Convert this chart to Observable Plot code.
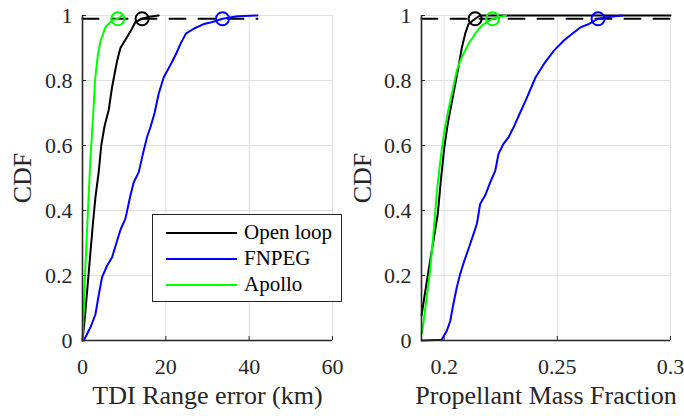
<!DOCTYPE html>
<html>
<head>
<meta charset="utf-8">
<script src="https://cdn.jsdelivr.net/npm/d3@7"></script>
<script src="https://cdn.jsdelivr.net/npm/@observablehq/plot@0.6"></script>
<style>
  body { margin: 0; background: #fff; }
  #fig { position: relative; width: 684px; height: 416px; overflow: hidden;
         font-family: "Liberation Serif", "Times New Roman", serif; color: #262626; }
  #fig > svg { position: absolute; top: 0; }
  #legend { position: absolute; left: 152px; top: 214px; width: 188px; height: 86px;
            border: 1px solid #262626; background: #fff; box-sizing: content-box;
            padding: 0; font-size: 21px; color: #000; }
  #legend .row { position: absolute; left: 0; height: 26px; display: flex; align-items: center; }
  #legend .row svg { margin-left: 13px; margin-right: 7px; }
</style>
</head>
<body>
<div id="fig"></div>
<script>
// Series names and colours, in drawing order
const seriesNames = ["Open loop", "FNPEG", "Apollo"];
const seriesColors = ["#000000", "#0000ff", "#00ff00"];

const yTicks = [0, 0.2, 0.4, 0.6, 0.8, 1];

// TDI range error (km) empirical CDFs
const rangeOpenX = [0, 0.5, 1.5, 2.5, 3.1, 3.9, 4.5, 5.3, 6.3, 7.1, 8.3, 9.1, 10.7, 11.9, 12.7, 14.3, 16, 18.3];
const rangeOpenY = [0, 0.06, 0.21, 0.36, 0.44, 0.52, 0.6, 0.66, 0.71, 0.78, 0.86, 0.9, 0.934, 0.96, 0.98, 0.99, 0.996, 1];
const rangeFnpegX = [0, 0.3, 1.9, 3.1, 3.9, 4.7, 5.9, 7.1, 7.9, 9.1, 10.3, 11.5, 12.3, 13.5, 14.7, 15.5, 16.3, 17.3, 18.3, 19.5, 21.2, 22.4, 23.6, 24.8, 26.8, 29.2, 31.2, 33.6, 37.2, 42];
const rangeFnpegY = [0, 0, 0.04, 0.08, 0.14, 0.195, 0.23, 0.256, 0.29, 0.34, 0.375, 0.446, 0.487, 0.518, 0.585, 0.626, 0.656, 0.7, 0.76, 0.81, 0.85, 0.88, 0.915, 0.944, 0.96, 0.974, 0.98, 0.99, 0.998, 1];
const rangeApolloX = [0, 0.2, 0.6, 1.2, 1.9, 2.6, 3.0, 3.7, 4.3, 5.5, 7.1, 8.5, 9.5];
const rangeApolloY = [0, 0.06, 0.2, 0.37, 0.56, 0.7, 0.8, 0.88, 0.92, 0.964, 0.985, 0.99, 1];
// 99th percentile markers
const rangeP99X = [14.3, 33.6, 8.5];
const rangeDashX = [0, 42];
const rangeXTicks = [0, 20, 40, 60];

// Propellant mass fraction empirical CDFs
const pmfOpenX = [0.19, 0.1931, 0.1953, 0.1972, 0.1987, 0.2001, 0.2016, 0.2027, 0.2041, 0.2063, 0.2078, 0.2093, 0.2108, 0.2137, 0.2159, 0.3];
const pmfOpenY = [0.077, 0.215, 0.308, 0.39, 0.503, 0.595, 0.667, 0.708, 0.759, 0.84, 0.9, 0.944, 0.974, 0.99, 1, 1];
const pmfFnpegX = [0.19, 0.1989, 0.2012, 0.2027, 0.2041, 0.2056, 0.2071, 0.2085, 0.21, 0.2115, 0.213, 0.2145, 0.2159, 0.2181, 0.2204, 0.2226, 0.224, 0.2262, 0.2285, 0.2307, 0.2335, 0.236, 0.2404, 0.2441, 0.2485, 0.2529, 0.2566, 0.2603, 0.264, 0.268, 0.2735, 0.2788];
const pmfFnpegY = [0, 0.002, 0.03, 0.06, 0.113, 0.164, 0.205, 0.236, 0.267, 0.297, 0.328, 0.36, 0.42, 0.446, 0.487, 0.523, 0.574, 0.605, 0.626, 0.656, 0.7, 0.738, 0.81, 0.851, 0.892, 0.923, 0.944, 0.964, 0.974, 0.99, 0.996, 1];
const pmfApolloX = [0.19, 0.1904, 0.1923, 0.1938, 0.1953, 0.1967, 0.1978, 0.1989, 0.2001, 0.2016, 0.2034, 0.2056, 0.2078, 0.2108, 0.2137, 0.2166, 0.2196, 0.2214, 0.2273];
const pmfApolloY = [0.02, 0.03, 0.133, 0.215, 0.33, 0.451, 0.523, 0.585, 0.646, 0.7, 0.759, 0.831, 0.872, 0.913, 0.944, 0.969, 0.983, 0.99, 1];
const pmfP99X = [0.2137, 0.268, 0.2214];
const pmfDashX = [0.19, 0.3];
const pmfXTicks = [0.2, 0.25, 0.3];

const p99Level = 0.99;
const serif = "Liberation Serif, Times New Roman, serif";

function rowsOf(pairs) {
  return pairs.flatMap(([name, xs, ys]) => xs.map((x, i) => ({series: name, x, y: ys[i]})));
}

function panel({curves, p99, dashX, xDomain, xTicks, xLabel, marginLeft, marginRight, left, yLabelDx}) {
  const rows = rowsOf(curves);
  const markers = p99.map((x, i) => ({series: seriesNames[i], x, y: p99Level}));
  const dash = dashX.map(x => ({x, y: p99Level}));
  const axisColor = "#262626";
  const svg = Plot.plot({
    width: 342, height: 416,
    marginLeft, marginRight, marginTop: 15, marginBottom: 76,
    style: `font-family: ${serif}; font-size: 22px; color: ${axisColor}; background: transparent; overflow: visible; max-width: none;`,
    x: {domain: xDomain},
    y: {domain: [0, 1]},
    color: {domain: seriesNames, range: seriesColors},
    marks: [
      Plot.gridX(xTicks, {stroke: "#e0e0e0", strokeOpacity: 1}),
      Plot.gridY(yTicks, {stroke: "#e0e0e0", strokeOpacity: 1}),
      Plot.line(dash, {x: "x", y: "y", stroke: "#000", strokeWidth: 2, strokeDasharray: "16,13"}),
      Plot.line(rows, {x: "x", y: "y", z: "series", stroke: "series", strokeWidth: 2, strokeLinejoin: "round"}),
      Plot.dot(markers, {x: "x", y: "y", r: 6.5, stroke: "series", strokeWidth: 2, fill: "none"}),
      Plot.ruleX([xDomain[0]], {stroke: axisColor, strokeWidth: 1.6}),
      Plot.ruleY([0], {stroke: axisColor, strokeWidth: 1.6}),
      Plot.axisX(xTicks, {tickSize: -4, tickPadding: 21.4, fontSize: 22, fontFamily: serif, label: null, tickFormat: d => String(d)}),
      Plot.axisY(yTicks, {tickSize: -4, tickPadding: 14, fontSize: 22, fontFamily: serif, label: null, tickFormat: d => String(d)}),
      Plot.text([xLabel], {frameAnchor: "bottom", dy: 54.7, lineAnchor: "middle", textAnchor: "middle",
                           text: d => d, fontSize: 26, fontFamily: serif, fill: axisColor}),
      Plot.text(["CDF"], {frameAnchor: "left", dx: yLabelDx, rotate: -90, lineAnchor: "middle", textAnchor: "middle",
                          text: d => d, fontSize: 26, fontFamily: serif, fill: axisColor})
    ]
  });
  svg.style.left = left + "px";
  return svg;
}

const fig = document.getElementById("fig");

fig.appendChild(panel({
  curves: [[seriesNames[0], rangeOpenX, rangeOpenY], [seriesNames[1], rangeFnpegX, rangeFnpegY], [seriesNames[2], rangeApolloX, rangeApolloY]],
  p99: rangeP99X, dashX: rangeDashX, xDomain: [0, 60], xTicks: rangeXTicks,
  xLabel: "TDI Range error (km)", marginLeft: 82, marginRight: 10, left: 0, yLabelDx: -60
}));

fig.appendChild(panel({
  curves: [[seriesNames[0], pmfOpenX, pmfOpenY], [seriesNames[1], pmfFnpegX, pmfFnpegY], [seriesNames[2], pmfApolloX, pmfApolloY]],
  p99: pmfP99X, dashX: pmfDashX, xDomain: [0.19, 0.3], xTicks: pmfXTicks,
  xLabel: "Propellant Mass Fraction", marginLeft: 79, marginRight: 14, left: 342, yLabelDx: -59
}));

// Legend box over the left panel
const legend = document.createElement("div");
legend.id = "legend";
seriesNames.forEach((name, i) => {
  const row = document.createElement("div");
  row.className = "row";
  row.style.top = (4.5 + i * 26.2) + "px";
  row.innerHTML = `<svg width="71" height="4"><line x1="0" y1="2" x2="71" y2="2" stroke="${seriesColors[i]}" stroke-width="2"/></svg><span>${name}</span>`;
  legend.appendChild(row);
});
fig.appendChild(legend);
</script>
</body>
</html>
